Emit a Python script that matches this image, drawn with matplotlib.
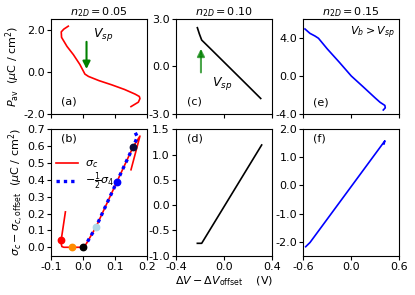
import numpy as np
import matplotlib
matplotlib.use("Agg")
import matplotlib.pyplot as plt
import matplotlib.ticker as ticker

plt.rcParams["font.family"] = "DejaVu Sans"
plt.rcParams["font.size"] = 8
plt.rcParams["axes.unicode_minus"] = False
plt.rcParams["mathtext.fontset"] = "dejavusans"

# ── data ─────────────────────────────────────────────────────
# (a) n2D = 0.05, P_av
a_x = [-0.046, -0.060, -0.068, -0.067, -0.050, -0.030, -0.010, 0.006,
       0.017, 0.050, 0.090, 0.130, 0.163, 0.176, 0.178, 0.173, 0.150]
a_y = [2.16, 2.02, 1.89, 1.63, 1.20, 0.81, 0.35, -0.11,
       -0.22, -0.42, -0.62, -0.84, -1.06, -1.17, -1.27, -1.44, -1.65]

# (b) sigma_c and -1/2 sigma_4
b_red_x = [-0.055, -0.068, -0.068, -0.066, -0.060, -0.035, 0.000,
           0.010, 0.040, 0.105, 0.157, 0.178, 0.150]
b_red_y = [0.21, 0.045, 0.02, 0.004, 0.0, 0.0, 0.0,
           0.02, 0.118, 0.385, 0.597, 0.66, 0.46]
b_blue_x = [0.0, 0.010, 0.040, 0.105, 0.157, 0.170, 0.158]
b_blue_y = [0.0, 0.020, 0.118, 0.385, 0.597, 0.655, 0.700]
dot_x = [-0.068, -0.035, 0.0, 0.040, 0.105, 0.157]
dot_y = [0.045, 0.0, 0.0, 0.118, 0.385, 0.597]
dot_c = ["red", "darkorange", "black", "lightblue", "blue", "#0a0a3c"]

# (c) n2D = 0.10
c_x = [-0.222, -0.205, -0.186, -0.10, 0.0, 0.10, 0.20, 0.306]
c_y = [2.45, 2.05, 1.67, 1.03, 0.28, -0.47, -1.22, -2.02]

# (d)
d_x = [-0.222, -0.186, 0.314]
d_y = [-0.755, -0.755, 1.19]

# (e) n2D = 0.15
e_x = [-0.579, -0.517, -0.454, -0.41, -0.30, -0.15, 0.0, 0.15,
       0.30, 0.36, 0.42, 0.425, 0.40]
e_y = [4.95, 4.49, 4.21, 3.97, 2.85, 1.45, 0.0, -1.15,
       -2.32, -2.77, -3.10, -3.35, -3.58]

# (f)
f_x = [-0.57, -0.516, 0.42, 0.41]
f_y = [-2.18, -2.03, 1.59, 1.48]

# ── layout ───────────────────────────────────────────────────
fig = plt.figure(figsize=(4.15, 2.95), dpi=100)

lefts = [0.1229, 0.4241, 0.7308]
w = 0.2313
top_b, top_h = 0.6136, 0.322
bot_b, bot_h = 0.1332, 0.4285

ax_a = fig.add_axes([lefts[0], top_b, w, top_h])
ax_c = fig.add_axes([lefts[1], top_b, w, top_h])
ax_e = fig.add_axes([lefts[2], top_b, w, top_h])
ax_b = fig.add_axes([lefts[0], bot_b, w, bot_h], sharex=ax_a)
ax_d = fig.add_axes([lefts[1], bot_b, w, bot_h], sharex=ax_c)
ax_f = fig.add_axes([lefts[2], bot_b, w, bot_h], sharex=ax_e)

fmt1 = ticker.FormatStrFormatter("%.1f")

# ── (a) ──
ax_a.plot(a_x, a_y, color="red", lw=1.2)
ax_a.annotate("", xy=(0.011, 0.0), xytext=(0.011, 1.55),
              arrowprops=dict(arrowstyle="-|>", color="green", lw=1.5,
                              mutation_scale=11))
ax_a.text(0.030, 1.65, "$V_{sp}$", fontsize=9)
ax_a.text(0.10, 0.13, "(a)", transform=ax_a.transAxes, va="center")
ax_a.set_xlim(-0.1, 0.2)
ax_a.set_ylim(-2.0, 2.5)
ax_a.set_yticks([-2, 0, 2])
ax_a.yaxis.set_major_formatter(fmt1)
ax_a.set_title("$n_{2D} = 0.05$", fontsize=8, pad=3)
ax_a.set_ylabel("$P_{\\rm av}$  ($\\mu$C / cm$^2$)", labelpad=1)

# ── (b) ──
ax_b.plot(b_red_x, b_red_y, color="red", lw=1.2, label="$\\sigma_c$")
ax_b.plot(b_blue_x, b_blue_y, color="blue", lw=2.4, linestyle=(0, (1, 1.2)),
          label="$-\\frac{1}{2}\\sigma_4$")
for x, y, c in zip(dot_x, dot_y, dot_c):
    ax_b.plot(x, y, "o", color=c, ms=4.6, zorder=5)
ax_b.text(0.10, 0.93, "(b)", transform=ax_b.transAxes, va="center")
ax_b.legend(loc="center left", bbox_to_anchor=(0.03, 0.635), frameon=False,
            handlelength=2.0, handletextpad=0.6, borderaxespad=0,
            borderpad=0.2, labelspacing=0.05, fontsize=8)
ax_b.set_ylim(-0.05, 0.7)
ax_b.set_yticks(np.arange(0, 0.71, 0.1))
ax_b.yaxis.set_major_formatter(fmt1)
ax_b.set_xticks([-0.1, 0.0, 0.1, 0.2])
ax_b.xaxis.set_major_formatter(fmt1)
ax_b.set_ylabel("$\\sigma_c - \\sigma_{c,\\rm offset}$  ($\\mu$C / cm$^2$)",
                labelpad=1)

# ── (c) ──
ax_c.plot(c_x, c_y, color="black", lw=1.2)
ax_c.annotate("", xy=(-0.192, 1.3), xytext=(-0.192, -0.55),
              arrowprops=dict(arrowstyle="-|>", color="green", lw=1.5,
                              mutation_scale=11, alpha=0.7))
ax_c.text(-0.10, -1.05, "$V_{sp}$", fontsize=9, va="center")
ax_c.text(0.11, 0.13, "(c)", transform=ax_c.transAxes, va="center")
ax_c.set_xlim(-0.4, 0.4)
ax_c.set_ylim(-3, 3)
ax_c.set_yticks([-3, 0, 3])
ax_c.yaxis.set_major_formatter(fmt1)
ax_c.set_title("$n_{2D} = 0.10$", fontsize=8, pad=3)

# ── (d) ──
ax_d.plot(d_x, d_y, color="black", lw=1.2)
ax_d.text(0.11, 0.93, "(d)", transform=ax_d.transAxes, va="center")
ax_d.set_ylim(-1.0, 1.5)
ax_d.set_yticks(np.arange(-1.0, 1.51, 0.5))
ax_d.yaxis.set_major_formatter(fmt1)
ax_d.set_xticks([-0.4, 0.0, 0.4])
ax_d.xaxis.set_major_formatter(fmt1)
ax_d.set_xlabel("$\\Delta V - \\Delta V_{\\rm offset}$    (V)", labelpad=2)

# ── (e) ──
ax_e.plot(e_x, e_y, color="blue", lw=1.2)
ax_e.text(0.95, 0.85, "$V_b > V_{sp}$", transform=ax_e.transAxes,
          ha="right", va="center", fontsize=8)
ax_e.text(0.10, 0.12, "(e)", transform=ax_e.transAxes, va="center")
ax_e.set_xlim(-0.6, 0.6)
ax_e.set_ylim(-4, 6)
ax_e.set_yticks([-4, 0, 4])
ax_e.yaxis.set_major_formatter(fmt1)
ax_e.set_title("$n_{2D} = 0.15$", fontsize=8, pad=3)

# ── (f) ──
ax_f.plot(f_x, f_y, color="blue", lw=1.2)
ax_f.text(0.10, 0.93, "(f)", transform=ax_f.transAxes, va="center")
ax_f.set_ylim(-2.5, 2.0)
ax_f.set_yticks([-2, -1, 0, 1, 2])
ax_f.yaxis.set_major_formatter(fmt1)
ax_f.set_xticks([-0.6, 0.0, 0.6])
ax_f.xaxis.set_major_formatter(fmt1)

for ax in (ax_a, ax_c, ax_e):
    ax.tick_params(labelbottom=False)
for ax in (ax_a, ax_b, ax_c, ax_d, ax_e, ax_f):
    ax.tick_params(length=3, width=0.8, pad=1.5, labelsize=8)

fig.savefig("out.png", dpi=100)
